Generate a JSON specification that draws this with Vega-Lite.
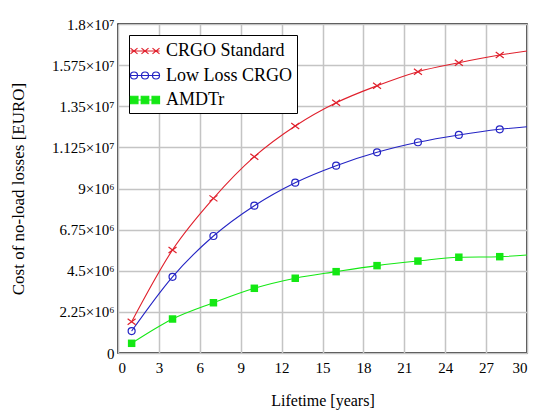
{
  "$schema": "https://vega.github.io/schema/vega-lite/v6.json",
  "autosize": {"type": "none"},
  "padding": {"left": 118, "top": 24, "right": 12, "bottom": 62},
  "width": 409,
  "height": 329,
  "background": "white",
  "config": {
    "view": {"stroke": "black", "strokeWidth": 1.5},
    "font": "Liberation Serif",
    "style": {
      "guide-label": {"font": "Liberation Serif", "fill": "black"},
      "guide-title": {"font": "Liberation Serif", "fill": "black", "fontWeight": "normal"}
    },
    "axis": {"labelFont": "Liberation Serif", "titleFont": "Liberation Serif", "labelColor": "black", "titleColor": "black", "titleFontWeight": "normal", "gridColor": "#c4c4c4", "gridWidth": 1.5, "ticks": false, "domain": false},
    "legend": {"labelFont": "Liberation Serif", "labelFontSize": 18, "labelColor": "black"}
  },
  "data": {
    "values": [
      {"series": "CRGO Standard", "year": 1, "cost": 1710000},
      {"series": "CRGO Standard", "year": 4, "cost": 5640000},
      {"series": "CRGO Standard", "year": 7, "cost": 8460000},
      {"series": "CRGO Standard", "year": 10, "cost": 10740000},
      {"series": "CRGO Standard", "year": 13, "cost": 12420000},
      {"series": "CRGO Standard", "year": 16, "cost": 13690000},
      {"series": "CRGO Standard", "year": 19, "cost": 14620000},
      {"series": "CRGO Standard", "year": 22, "cost": 15390000},
      {"series": "CRGO Standard", "year": 25, "cost": 15880000},
      {"series": "CRGO Standard", "year": 28, "cost": 16300000},
      {"series": "CRGO Standard", "year": 30, "cost": 16520000},
      {"series": "Low Loss CRGO", "year": 1, "cost": 1200000},
      {"series": "Low Loss CRGO", "year": 4, "cost": 4170000},
      {"series": "Low Loss CRGO", "year": 7, "cost": 6400000},
      {"series": "Low Loss CRGO", "year": 10, "cost": 8060000},
      {"series": "Low Loss CRGO", "year": 13, "cost": 9320000},
      {"series": "Low Loss CRGO", "year": 16, "cost": 10250000},
      {"series": "Low Loss CRGO", "year": 19, "cost": 10980000},
      {"series": "Low Loss CRGO", "year": 22, "cost": 11530000},
      {"series": "Low Loss CRGO", "year": 25, "cost": 11930000},
      {"series": "Low Loss CRGO", "year": 28, "cost": 12240000},
      {"series": "Low Loss CRGO", "year": 30, "cost": 12380000},
      {"series": "AMDTr", "year": 1, "cost": 530000},
      {"series": "AMDTr", "year": 4, "cost": 1860000},
      {"series": "AMDTr", "year": 7, "cost": 2750000},
      {"series": "AMDTr", "year": 10, "cost": 3540000},
      {"series": "AMDTr", "year": 13, "cost": 4090000},
      {"series": "AMDTr", "year": 16, "cost": 4450000},
      {"series": "AMDTr", "year": 19, "cost": 4780000},
      {"series": "AMDTr", "year": 22, "cost": 5030000},
      {"series": "AMDTr", "year": 25, "cost": 5240000},
      {"series": "AMDTr", "year": 28, "cost": 5270000},
      {"series": "AMDTr", "year": 30, "cost": 5360000}
    ]
  },
  "encoding": {
    "x": {
      "field": "year", "type": "quantitative",
      "scale": {"domain": [0, 30], "nice": false, "zero": false},
      "axis": {"values": [0, 3, 6, 9, 12, 15, 18, 21, 24, 27, 30], "title": "Lifetime [years]", "labelFont": "Liberation Serif", "labelFontSize": 15, "labelPadding": 7, "titleFontSize": 16, "titlePadding": 17, "grid": true}
    },
    "y": {
      "field": "cost", "type": "quantitative",
      "scale": {"domain": [0, 18000000], "nice": false},
      "axis": {"values": [0, 2250000, 4500000, 6750000, 9000000, 11250000, 13500000, 15750000, 18000000],
        "labelExpr": "datum.value == 0 ? '0' : (datum.value < 10000000 ? ('' + datum.value / 1000000 + '×10⁶') : ('' + datum.value / 10000000 + '×10⁷'))",
        "title": "Cost of no-load losses [EURO]", "labelFont": "Liberation Serif", "labelFontSize": 15, "labelPadding": 4, "titleFontSize": 17, "titlePadding": 24, "grid": true}
    }
  },
  "layer": [
    {
      "mark": {"type": "line", "interpolate": "monotone", "strokeWidth": 1.1},
      "encoding": {
        "color": {
          "field": "series", "type": "nominal",
          "scale": {"domain": ["CRGO Standard", "Low Loss CRGO", "AMDTr"], "range": ["#e0202c", "#2424c4", "#14e814"]}
        }
      }
    },
    {
      "transform": [{"filter": "datum.year != 30 && datum.series == 'CRGO Standard'"}],
      "mark": {"type": "point", "filled": false, "size": 64, "strokeWidth": 1.2, "opacity": 1, "shape": "M-1,-0.75L1,0.75M-1,0.75L1,-0.75", "color": "#e0202c"}
    },
    {
      "transform": [{"filter": "datum.year != 30 && datum.series == 'Low Loss CRGO'"}],
      "mark": {"type": "point", "filled": false, "size": 49, "strokeWidth": 1.2, "opacity": 1, "shape": "circle", "color": "#2424c4"}
    },
    {
      "transform": [{"filter": "datum.year != 30 && datum.series == 'AMDTr'"}],
      "mark": {"type": "point", "filled": true, "size": 56, "opacity": 1, "shape": "square", "color": "#14e814"}
    },
    {
      "transform": [{"filter": "datum.year == 30"}],
      "mark": {"type": "point", "filled": false, "size": 1, "strokeWidth": 1.2, "opacity": 0},
      "encoding": {
        "color": {
          "field": "series", "type": "nominal",
          "legend": {
            "title": null, "orient": "top-left", "offset": 11, "padding": 4,
            "strokeColor": "black", "fillColor": "white",
            "labelFont": "Liberation Serif", "labelFontSize": 18, "labelColor": "black",
            "symbolSize": 484, "symbolOpacity": 1, "symbolStrokeWidth": 1.2, "labelOffset": 9, "rowPadding": 3.5
          }
        },
        "shape": {
          "field": "series", "type": "nominal",
          "scale": {"domain": ["CRGO Standard", "Low Loss CRGO", "AMDTr"], "range": [
            "M-1.32,-0.26L-0.68,0.26M-1.32,0.26L-0.68,-0.26M-0.32,-0.26L0.32,0.26M-0.32,0.26L0.32,-0.26M0.68,-0.26L1.32,0.26M0.68,0.26L1.32,-0.26M-1.32,0L1.32,0",
            "M-0.68,0A0.32,0.32 0 1,0 -1.32,0A0.32,0.32 0 1,0 -0.68,0M0.32,0A0.32,0.32 0 1,0 -0.32,0A0.32,0.32 0 1,0 0.32,0M1.32,0A0.32,0.32 0 1,0 0.68,0A0.32,0.32 0 1,0 1.32,0M-1.32,0L1.32,0",
            "M-1.32,-0.34H-0.64V0.34H-1.32ZM-0.34,-0.34H0.34V0.34H-0.34ZM0.64,-0.34H1.32V0.34H0.64ZM-1.32,0L1.32,0"
          ]},
          "legend": null
        },
        "fill": {
          "field": "series", "type": "nominal",
          "scale": {"domain": ["CRGO Standard", "Low Loss CRGO", "AMDTr"], "range": ["transparent", "transparent", "#14e814"]},
          "legend": null
        }
      }
    }
  ]
}
